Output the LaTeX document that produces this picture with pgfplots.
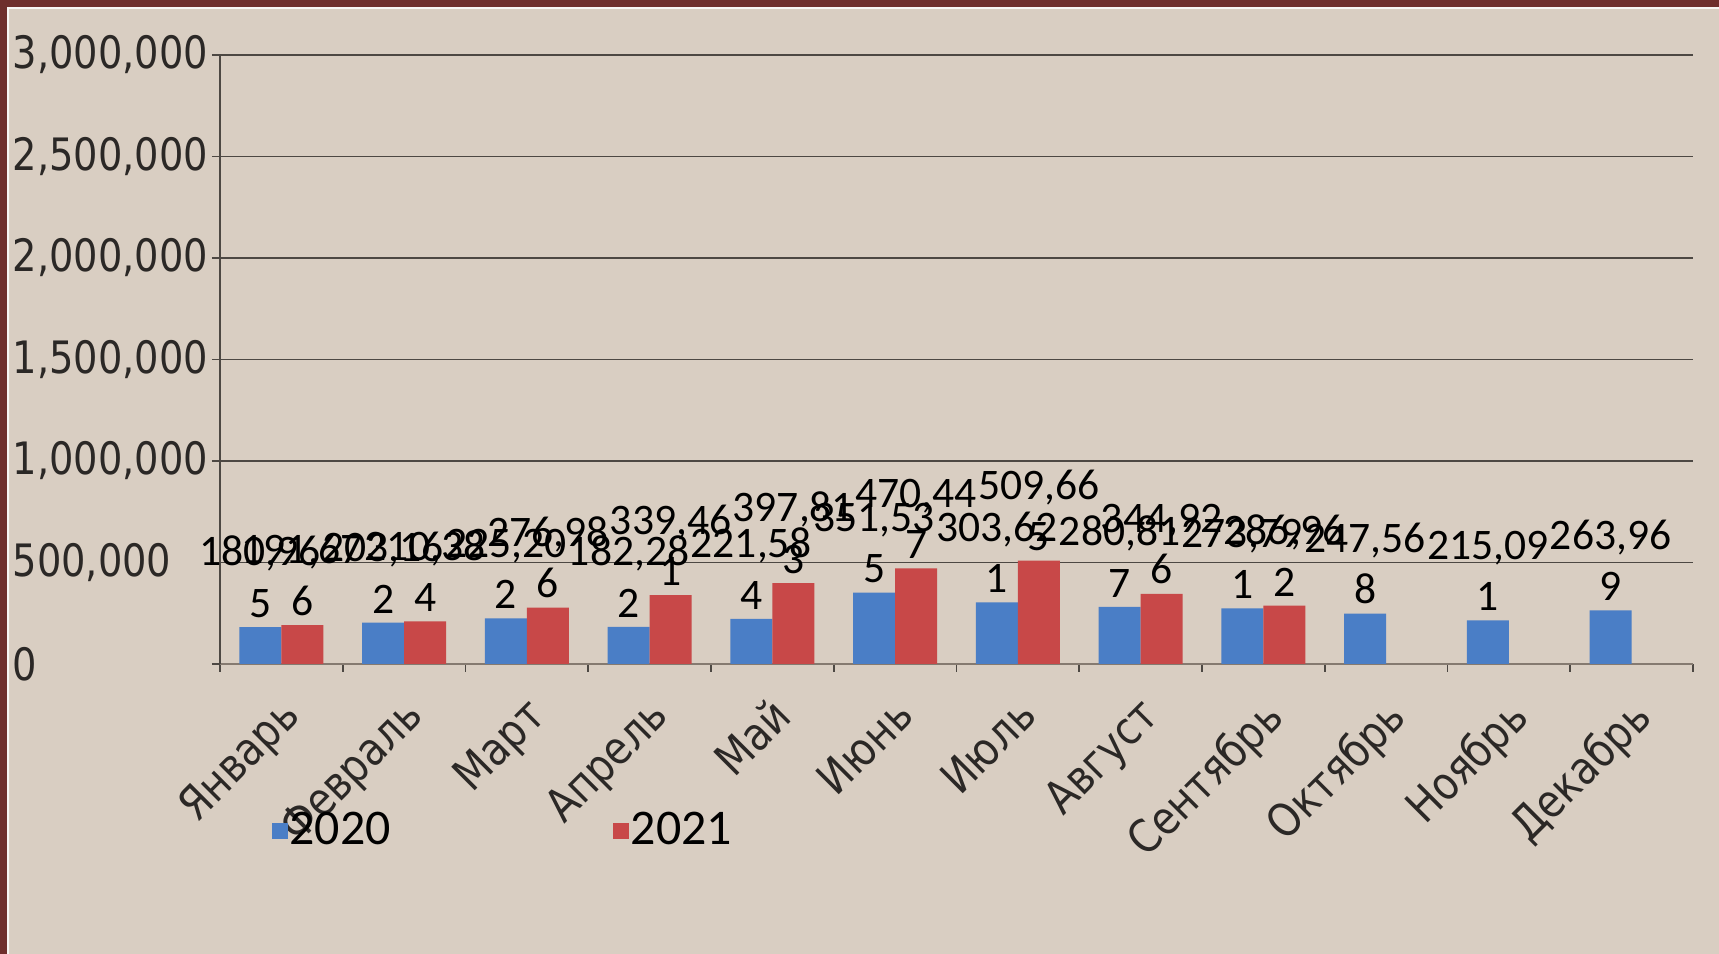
\documentclass[border=0pt]{standalone}
\usepackage{fontspec}
\setmainfont{Carlito}
\newfontfamily\tah[FakeStretch=0.86]{DejaVu Sans}
\usepackage{pgfplots}
\usepackage{pgfplotstable}
\pgfplotsset{compat=1.18}
\definecolor{bgbeige}{HTML}{D9CEC2}
\definecolor{framec}{HTML}{6E2E2C}
\definecolor{c2020}{HTML}{4A7EC6}
\definecolor{c2021}{HTML}{C84848}
\definecolor{gridc}{HTML}{4D4843}
\definecolor{axisc}{HTML}{857A70}
\definecolor{txt}{HTML}{2B2826}

% label "180965" -> "180,96" over "5"
\def\splitlab#1#2#3#4#5#6{#1#2#3,#4#5\\#6}

\pgfplotstableread{
x y
0 180965
1 203162
2 225202
3 182282
4 221584
5 351535
6 303621
7 280817
8 273791
9 247568
10 215091
11 263969
}\dataA
\pgfplotstableread{
x y
0 191676
1 210384
2 276986
3 339461
4 397813
5 470447
6 509665
7 344926
8 286962
}\dataB

\begin{document}
\begin{tikzpicture}
\fill[framec] (0,0) rectangle (17.19,9.54);
\fill[white!80!bgbeige] (0.07,0) rectangle (17.19,9.47);
\fill[bgbeige] (0.09,0) rectangle (17.19,9.45);
\useasboundingbox (0,0) rectangle (17.19,9.54);
\begin{axis}[
  at={(2.20cm,2.90cm)}, anchor=south west,
  scale only axis, width=14.73cm, height=6.09cm,
  xmin=-0.5, xmax=11.5, ymin=0, ymax=3000000,
  axis lines*=left,
  ybar=0pt, bar width=0.42cm,
  ytick={0,500000,1000000,1500000,2000000,2500000,3000000},
  yticklabels={0,{500,000},{1,000,000},{1,500,000},{2,000,000},{2,500,000},{3,000,000}},
  scaled y ticks=false,
  yticklabel style={font=\tah\fontsize{12.7}{14}\selectfont, text=txt, anchor=west,
    inner sep=0pt, xshift=-2.00cm},
  ymajorgrids, grid style={gridc, line width=0.55pt},
  y axis line style={gridc, line width=0.55pt},
  x axis line style={axisc, line width=0.8pt},
  tick align=outside, major tick length=0.08cm,
  tick style={gridc, line width=0.55pt},
  xtick={-0.5,0.5,1.5,2.5,3.5,4.5,5.5,6.5,7.5,8.5,9.5,10.5,11.5},
  xticklabels={},
  extra x ticks={0,1,2,3,4,5,6,7,8,9,10,11},
  extra x tick labels={Январь,Февраль,Март,Апрель,Май,Июнь,Июль,Август,Сентябрь,Октябрь,Ноябрь,Декабрь},
  extra x tick style={major tick length=0pt, grid=none},
  xticklabel style={font=\tah\fontsize{13}{15}\selectfont, text=txt, inner sep=0pt,
    anchor=north east, xshift=-0.03cm, yshift=-0.30cm, rotate=45},
  point meta=explicit symbolic,
  nodes near coords={\expandafter\splitlab\pgfplotspointmeta},
  every node near coord/.append style={font=\fontsize{12.4}{14.6}\selectfont, text=black,
    align=center, anchor=south, inner sep=0pt, yshift=0.09cm},
  legend columns=2,
  legend style={at={(0.0346,-0.274)}, anchor=west, draw=none, fill=none, inner sep=0pt,
    font=\fontsize{14.2}{16}\selectfont, text=black,
    nodes={inner sep=0.02cm},
    /tikz/every even column/.append style={column sep=2.2cm}},
]
\addplot[fill=c2020, draw=none,
  legend image code/.code={\fill[c2020] (0cm,-0.08cm) rectangle (0.16cm,0.08cm);}]
  table[x=x, y=y, meta=y] {\dataA};
\addplot[fill=c2021, draw=none,
  legend image code/.code={\fill[c2021] (0cm,-0.08cm) rectangle (0.16cm,0.08cm);}]
  table[x=x, y=y, meta=y] {\dataB};
\legend{2020,2021}
\end{axis}
\end{tikzpicture}
\end{document}
